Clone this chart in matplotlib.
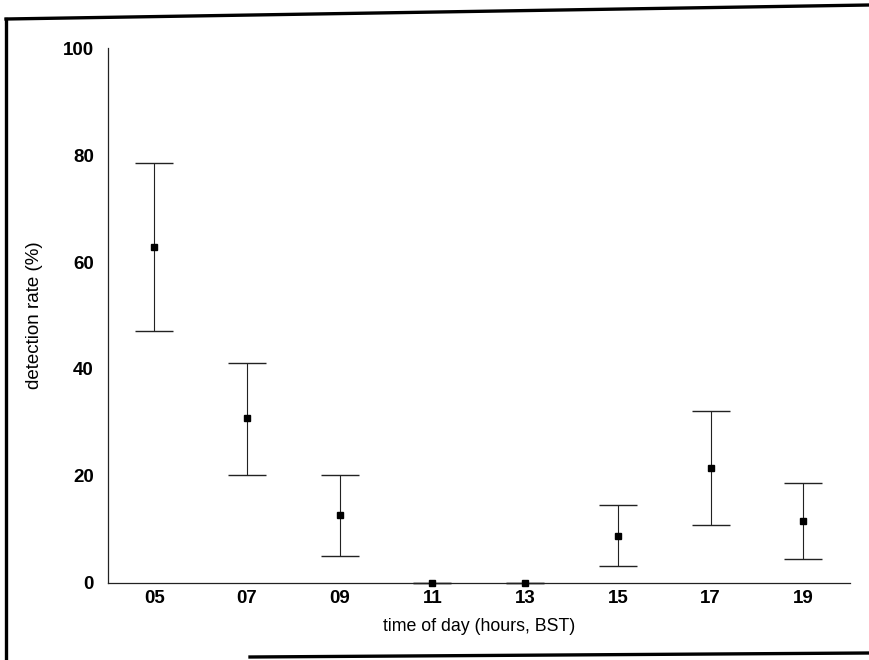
import matplotlib.pyplot as plt
from matplotlib.lines import Line2D

# data
hours = ["05", "07", "09", "11", "13", "15", "17", "19"]
rate = [62.8, 30.8, 12.6, 0.0, 0.0, 8.7, 21.5, 11.5]
upper = [78.5, 41.2, 20.2, 0.0, 0.0, 14.5, 32.1, 18.6]
lower = [47.1, 20.1, 5.1, 0.0, 0.0, 3.1, 10.8, 4.4]
yticks = [0, 20, 40, 60, 80, 100]

plt.rcParams["font.family"] = ["Liberation Sans Narrow", "Liberation Sans", "DejaVu Sans"]

fig = plt.figure(figsize=(8.69, 6.6), dpi=100)
ax = fig.add_axes([0.124, 0.117, 0.854, 0.81])

x = list(range(len(hours)))
err_low = [r - lo for r, lo in zip(rate, lower)]
err_up = [up - r for r, up in zip(rate, upper)]

ax.errorbar(
    x, rate, yerr=[err_low, err_up],
    fmt="s", color="black", markersize=4.5,
    ecolor="#222222", elinewidth=0.8, capsize=14, capthick=1.0,
    clip_on=False, zorder=3,
)

ax.set_xlim(-0.5, 7.5)
ax.set_ylim(0, 100)
ax.set_xticks(x)
ax.set_xticklabels(hours)
ax.set_yticks(yticks)

for side in ["top", "right"]:
    ax.spines[side].set_visible(False)
for side in ["left", "bottom"]:
    ax.spines[side].set_linewidth(0.9)
    ax.spines[side].set_color("#222222")

ax.tick_params(axis="both", length=0, labelsize=13.5)
ax.tick_params(axis="y", pad=10)
ax.tick_params(axis="x", pad=5)
for lab in ax.get_xticklabels() + ax.get_yticklabels():
    lab.set_fontweight("bold")

ax.set_xlabel("time of day (hours, BST)", fontsize=12.8, labelpad=8)
ax.set_ylabel("detection rate (%)", fontsize=13.5, labelpad=14)

# frame from the scanned page
W, H = 869, 660
frame_kw = dict(color="black", linewidth=2.4, transform=fig.transFigure)
fig.add_artist(Line2D([6 / W, 1.0], [1 - 19 / H, 1 - 5 / H], **frame_kw))
fig.add_artist(Line2D([6 / W, 6 / W], [1 - 19 / H, 0.0], **frame_kw))
fig.add_artist(Line2D([250 / W, 1.0], [1 - 657 / H, 1 - 653 / H], **frame_kw))

fig.savefig("out.png", dpi=100)
